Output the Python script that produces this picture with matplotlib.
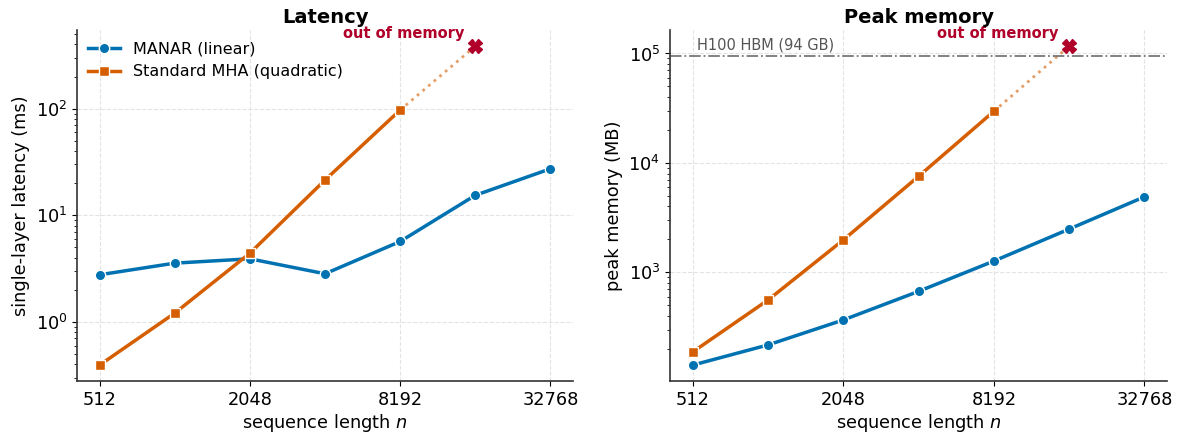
import matplotlib
matplotlib.use('Agg')
import matplotlib.pyplot as plt
import matplotlib.ticker as mticker

# sequence lengths (log2 axis)
seq_len = [512, 1024, 2048, 4096, 8192, 16384, 32768]
seq_ticks = [512, 2048, 8192, 32768]

# latency (ms)
manar_lat = [2.77, 3.56, 3.91, 2.83, 5.68, 15.4, 27.3]
mha_len = [512, 1024, 2048, 4096, 8192]
mha_lat = [0.394, 1.21, 4.41, 21.4, 97.0]
oom_len = 16384
oom_lat = 385.0

# peak memory (MB)
manar_mem = [142, 217, 367, 670, 1268, 2485, 4900]
mha_mem = [187, 558, 1974, 7540, 29600]
oom_mem = 116600.0
hbm_mb = 94000
hbm_label = 'H100 HBM (94 GB)'

BLUE = '#0072B2'
ORANGE = '#D55E00'
OOM_RED = '#B0002A'

plt.rcParams['font.family'] = 'DejaVu Sans'
plt.rcParams['axes.edgecolor'] = '#333333'

fig = plt.figure(figsize=(11.78, 4.38), dpi=100)
ax1 = fig.add_axes([0.0654, 0.130, 0.421, 0.801])
ax2 = fig.add_axes([0.5688, 0.130, 0.4219, 0.801])


def style_axis(ax, title, ylabel):
    ax.set_xscale('log', base=2)
    ax.set_yscale('log')
    ax.set_xticks(seq_ticks)
    ax.xaxis.set_major_formatter(mticker.FuncFormatter(lambda v, p: f'{int(v)}'))
    ax.xaxis.set_minor_locator(mticker.NullLocator())
    ax.set_title(title, fontsize=14, fontweight='bold', pad=5)
    ax.set_xlabel('sequence length $n$', fontsize=12.8, labelpad=2)
    ax.set_ylabel(ylabel, fontsize=12.8)
    ax.tick_params(axis='both', which='major', labelsize=12.8)
    ax.grid(True, which='major', linestyle='--', color='#e3e3e3', linewidth=0.8)
    ax.set_axisbelow(True)
    for s in ['top', 'right']:
        ax.spines[s].set_visible(False)
    for s in ['left', 'bottom']:
        ax.spines[s].set_linewidth(1.2)


def oom_mark(ax, x0, y0, x1, y1):
    ax.plot([x0, x1], [y0, y1], linestyle=':', color=ORANGE, alpha=0.6, linewidth=2)
    ax.plot(x1, y1, marker='X', color=OOM_RED, markersize=10, linestyle='none')
    ax.annotate('out of memory', (x1, y1), xytext=(-8, 9), textcoords='offset points',
                ha='right', va='center', color=OOM_RED, fontsize=10.5, fontweight='bold')


# Latency
ax1.plot(seq_len, manar_lat, color=BLUE, marker='o', markersize=7.5, linewidth=2.5,
         markeredgecolor='white', markeredgewidth=1, label='MANAR (linear)')
ax1.plot(mha_len, mha_lat, color=ORANGE, marker='s', markersize=7, linewidth=2.5,
         markeredgecolor='white', markeredgewidth=1, label='Standard MHA (quadratic)')
oom_mark(ax1, mha_len[-1], mha_lat[-1], oom_len, oom_lat)
style_axis(ax1, 'Latency', 'single-layer latency (ms)')
ax1.legend(loc='upper left', frameon=False, fontsize=11.5, borderaxespad=0.3)

# Peak memory
ax2.plot(seq_len, manar_mem, color=BLUE, marker='o', markersize=7.5, linewidth=2.5,
         markeredgecolor='white', markeredgewidth=1)
ax2.plot(mha_len, mha_mem, color=ORANGE, marker='s', markersize=7, linewidth=2.5,
         markeredgecolor='white', markeredgewidth=1)
oom_mark(ax2, mha_len[-1], mha_mem[-1], oom_len, oom_mem)
ax2.axhline(hbm_mb, color='#777777', linestyle='-.', linewidth=1.3)
ax2.annotate(hbm_label, (seq_len[0], hbm_mb), xytext=(3, 3), textcoords='offset points',
             ha='left', va='bottom', color='#555555', fontsize=10.5)
style_axis(ax2, 'Peak memory', 'peak memory (MB)')

fig.savefig('out.png', dpi=100)
